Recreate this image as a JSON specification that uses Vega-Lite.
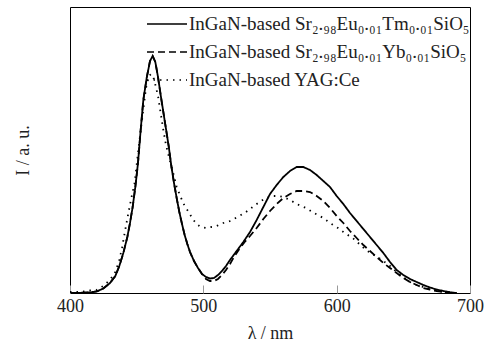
{
  "$schema": "https://vega.github.io/schema/vega-lite/v6.json",
  "autosize": "none",
  "width": 400,
  "height": 286,
  "padding": {"left": 70, "top": 7, "right": 29, "bottom": 54},
  "background": "white",
  "config": {
    "font": "Liberation Serif",
    "view": {"stroke": "#000", "strokeWidth": 1}
  },
  "datasets": {
    "tm": [
      {"wl":400,"I":0},{"wl":405,"I":0},{"wl":410,"I":0.3},{"wl":415,"I":0.6},{"wl":420,"I":1.5},{"wl":425,"I":4.5},{"wl":430,"I":10},{"wl":434,"I":17},{"wl":437,"I":27},{"wl":440,"I":40},{"wl":443,"I":56},{"wl":445,"I":70},{"wl":447,"I":86},{"wl":449,"I":106},{"wl":451,"I":130},{"wl":453,"I":163},{"wl":455,"I":193},{"wl":457.5,"I":215},{"wl":460,"I":232},{"wl":462,"I":237},{"wl":464,"I":231},{"wl":466,"I":216},{"wl":468,"I":198},{"wl":470,"I":181},{"wl":472,"I":164},{"wl":474,"I":147},{"wl":476,"I":127},{"wl":478,"I":110},{"wl":480,"I":95},{"wl":482,"I":81},{"wl":484,"I":69},{"wl":486,"I":58},{"wl":488,"I":49},{"wl":490,"I":41},{"wl":493,"I":32},{"wl":496,"I":25},{"wl":499,"I":19},{"wl":502,"I":16},{"wl":505,"I":14.5},{"wl":508,"I":15},{"wl":511,"I":18},{"wl":514,"I":22},{"wl":517,"I":27},{"wl":520,"I":33},{"wl":525,"I":42},{"wl":530,"I":51},{"wl":535,"I":61},{"wl":540,"I":73},{"wl":545,"I":86},{"wl":550,"I":99},{"wl":555,"I":108},{"wl":560,"I":116},{"wl":565,"I":122},{"wl":570,"I":126},{"wl":575,"I":126},{"wl":580,"I":123},{"wl":585,"I":118},{"wl":590,"I":112},{"wl":595,"I":106},{"wl":600,"I":97},{"wl":605,"I":89},{"wl":610,"I":80},{"wl":615,"I":72},{"wl":620,"I":64},{"wl":625,"I":56},{"wl":630,"I":48},{"wl":635,"I":40},{"wl":640,"I":31},{"wl":645,"I":23},{"wl":650,"I":18},{"wl":655,"I":14},{"wl":660,"I":11},{"wl":665,"I":8},{"wl":670,"I":5.5},{"wl":675,"I":3.5},{"wl":680,"I":2},{"wl":685,"I":0.8},{"wl":690,"I":0}
    ],
    "yb": [
      {"wl":400,"I":0},{"wl":405,"I":0},{"wl":410,"I":0.3},{"wl":415,"I":0.6},{"wl":420,"I":1.5},{"wl":425,"I":4.5},{"wl":430,"I":10},{"wl":434,"I":17},{"wl":437,"I":27},{"wl":440,"I":40},{"wl":443,"I":56},{"wl":445,"I":70},{"wl":447,"I":86},{"wl":449,"I":106},{"wl":451,"I":130},{"wl":453,"I":163},{"wl":455,"I":193},{"wl":457.5,"I":215},{"wl":460,"I":232},{"wl":462,"I":237},{"wl":464,"I":231},{"wl":466,"I":216},{"wl":468,"I":198},{"wl":470,"I":181},{"wl":472,"I":164},{"wl":474,"I":147},{"wl":476,"I":127},{"wl":478,"I":110},{"wl":480,"I":95},{"wl":482,"I":81},{"wl":484,"I":69},{"wl":486,"I":58},{"wl":488,"I":49},{"wl":490,"I":41},{"wl":493,"I":32},{"wl":496,"I":25},{"wl":499,"I":19},{"wl":502,"I":14},{"wl":505,"I":12},{"wl":508,"I":12},{"wl":511,"I":14},{"wl":514,"I":18},{"wl":517,"I":23},{"wl":520,"I":29},{"wl":523,"I":36},{"wl":527,"I":44},{"wl":531,"I":51},{"wl":535,"I":57},{"wl":540,"I":65},{"wl":545,"I":74},{"wl":550,"I":82},{"wl":555,"I":89},{"wl":560,"I":95},{"wl":565,"I":99},{"wl":570,"I":102},{"wl":575,"I":102},{"wl":580,"I":101},{"wl":585,"I":97},{"wl":590,"I":92},{"wl":595,"I":85},{"wl":600,"I":77},{"wl":605,"I":70},{"wl":610,"I":62},{"wl":615,"I":55},{"wl":620,"I":48},{"wl":625,"I":42},{"wl":630,"I":36},{"wl":635,"I":30},{"wl":640,"I":25},{"wl":645,"I":20},{"wl":650,"I":15},{"wl":655,"I":11},{"wl":660,"I":8},{"wl":665,"I":5},{"wl":670,"I":3.5},{"wl":675,"I":2},{"wl":680,"I":1},{"wl":685,"I":0.3},{"wl":690,"I":0}
    ],
    "yag": [
      {"wl":400,"I":1},{"wl":405,"I":1},{"wl":410,"I":1.5},{"wl":415,"I":2.5},{"wl":420,"I":3},{"wl":425,"I":7},{"wl":430,"I":13},{"wl":434,"I":21},{"wl":437,"I":33},{"wl":439,"I":45},{"wl":441,"I":60},{"wl":443.5,"I":78},{"wl":446,"I":95},{"wl":448.5,"I":110},{"wl":451,"I":140},{"wl":453,"I":162},{"wl":455,"I":184},{"wl":457,"I":205},{"wl":459,"I":217},{"wl":461,"I":219},{"wl":463,"I":214},{"wl":466,"I":197},{"wl":468,"I":180},{"wl":470,"I":163},{"wl":472,"I":148},{"wl":475,"I":132},{"wl":478,"I":117},{"wl":480,"I":106},{"wl":483,"I":96},{"wl":486,"I":87},{"wl":489,"I":81},{"wl":492,"I":74},{"wl":495,"I":69},{"wl":498,"I":66},{"wl":502,"I":65},{"wl":506,"I":66},{"wl":510,"I":67},{"wl":515,"I":70},{"wl":520,"I":72},{"wl":527,"I":77},{"wl":532,"I":81},{"wl":537,"I":86},{"wl":542,"I":91},{"wl":547,"I":95},{"wl":552,"I":97},{"wl":556,"I":97},{"wl":560,"I":96},{"wl":565,"I":93},{"wl":570,"I":89},{"wl":577,"I":85},{"wl":583,"I":80},{"wl":590,"I":75},{"wl":595,"I":70},{"wl":601,"I":65},{"wl":606,"I":60},{"wl":612,"I":55},{"wl":617,"I":49},{"wl":622,"I":43},{"wl":628,"I":38},{"wl":634,"I":33},{"wl":640,"I":27},{"wl":645,"I":21},{"wl":650,"I":16},{"wl":655,"I":11},{"wl":660,"I":8},{"wl":665,"I":6},{"wl":670,"I":4},{"wl":675,"I":2},{"wl":680,"I":1},{"wl":685,"I":0.3},{"wl":690,"I":0}
    ]
  },
  "layer": [
    {
      "data": {"name": "tm"},
      "transform": [{"calculate": "'InGaN-based Sr₂.₉₈Eu₀.₀₁Tm₀.₀₁SiO₅'", "as": "s"}],
      "mark": {"type": "line", "color": "#000", "strokeWidth": 1.8, "clip": true},
      "encoding": {
        "x": {"field": "wl", "type": "quantitative", "scale": {"domain": [400, 700], "nice": false},
          "axis": {"values": [400, 500, 600, 700], "title": "λ / nm", "titleFontSize": 18, "titleFont": "Liberation Serif", "titleFontWeight": "normal", "titleColor": "#222", "titlePadding": 9,
            "labelFontSize": 18, "labelColor": "#222", "labelFont": "Liberation Serif", "labelPadding": 12, "tickSize": -8, "tickColor": "#999", "domain": false, "grid": false, "labelFlush": false}},
        "y": {"field": "I", "type": "quantitative", "scale": {"domain": [0, 286], "nice": false},
          "axis": {"title": "I / a. u.", "titleFontSize": 18, "titleFont": "Liberation Serif", "titleFontWeight": "normal", "titleColor": "#222", "titlePadding": 38, "labels": false, "ticks": false, "domain": false, "grid": false}},
        "strokeDash": {"field": "s", "type": "nominal",
          "scale": {"domain": ["InGaN-based Sr₂.₉₈Eu₀.₀₁Tm₀.₀₁SiO₅", "InGaN-based Sr₂.₉₈Eu₀.₀₁Yb₀.₀₁SiO₅", "InGaN-based YAG:Ce"], "range": [[1, 0], [7, 4], [1.5, 5]]},
          "legend": {"title": null, "orient": "none", "legendX": 96, "legendY": 6, "padding": 0, "symbolType": "M-3,0H1", "symbolSize": 400, "symbolStrokeWidth": 1.6, "symbolStrokeColor": "#000", "symbolFillColor": "transparent", "labelFontSize": 19, "labelFont": "Liberation Serif", "labelColor": "#222", "labelLimit": 400, "labelOffset": 1, "rowPadding": 7}}
      }
    },
    {
      "data": {"name": "yb"},
      "transform": [{"calculate": "'InGaN-based Sr₂.₉₈Eu₀.₀₁Yb₀.₀₁SiO₅'", "as": "s"}],
      "mark": {"type": "line", "color": "#000", "strokeWidth": 1.8, "clip": true},
      "encoding": {
        "x": {"field": "wl", "type": "quantitative"},
        "y": {"field": "I", "type": "quantitative"},
        "strokeDash": {"field": "s", "type": "nominal"}
      }
    },
    {
      "data": {"name": "yag"},
      "transform": [{"calculate": "'InGaN-based YAG:Ce'", "as": "s"}],
      "mark": {"type": "line", "color": "#000", "strokeWidth": 1.8, "clip": true},
      "encoding": {
        "x": {"field": "wl", "type": "quantitative"},
        "y": {"field": "I", "type": "quantitative"},
        "strokeDash": {"field": "s", "type": "nominal"}
      }
    }
  ]
}
